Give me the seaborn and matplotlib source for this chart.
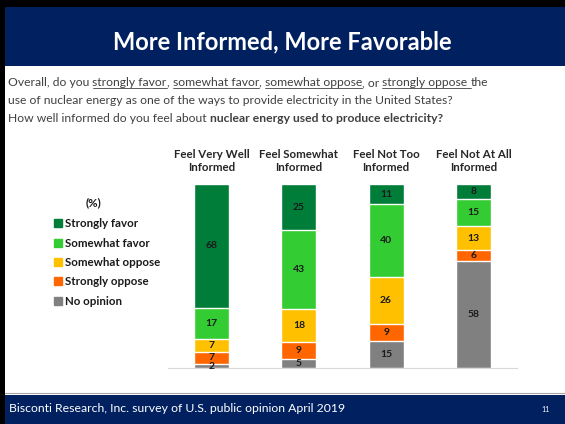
import numpy as np
import pandas as pd
import seaborn as sns
import matplotlib

matplotlib.use("Agg")
import matplotlib.pyplot as plt
from matplotlib.patches import Rectangle, Patch
from matplotlib.lines import Line2D

# data (percent)
groups = ["Feel Very Well\nInformed", "Feel Somewhat\nInformed",
          "Feel Not Too\nInformed", "Feel Not At All\nInformed"]
strongly_favor = [68, 25, 11, 8]
somewhat_favor = [17, 43, 40, 15]
somewhat_oppose = [7, 18, 26, 13]
strongly_oppose = [7, 9, 9, 6]
no_opinion = [2, 5, 15, 58]

series = ["No opinion", "Strongly oppose", "Somewhat oppose",
          "Somewhat favor", "Strongly favor"]
colors = ["#808080", "#FF6600", "#FFC000", "#33CC33", "#007E39"]

df = pd.DataFrame({
    "No opinion": no_opinion,
    "Strongly oppose": strongly_oppose,
    "Somewhat oppose": somewhat_oppose,
    "Somewhat favor": somewhat_favor,
    "Strongly favor": strongly_favor,
}, index=groups)

# 100% stacked like the original excel chart
share = df.div(df.sum(axis=1), axis=0) * 100
cum = share.cumsum(axis=1)
base = cum - share

sns.set_style("white")
plt.rcParams["font.family"] = ["Lato", "DejaVu Sans"]

fig = plt.figure(figsize=(5.65, 4.24), dpi=100)
W, H = 565, 424

def box(x0, y0, x1, y1, color):
    fig.add_artist(Rectangle((x0 / W, 1 - y1 / H), (x1 - x0) / W, (y1 - y0) / H,
                             transform=fig.transFigure, color=color, lw=0, zorder=0))

# slide frame, header and footer
box(0, 0, W, 7, "black")
box(0, 0, 5, H, "black")
box(5, 7, W, 66, "#002060")
box(5, 395, W, H, "#002060")
fig.add_artist(Line2D([5 / W, 1], [1 - 393 / H] * 2, transform=fig.transFigure,
                      color="#A6A6A6", lw=0.8))

fig.text(282 / W, 1 - 42 / H, "More Informed, More Favorable", color="white",
         fontsize=17, fontweight="bold", ha="center", va="center")
fig.text(9 / W, 1 - 409 / H, "Bisconti Research, Inc. survey of U.S. public opinion April 2019",
         color="white", fontsize=8.8, va="center")
fig.text(541 / W, 1 - 410 / H, "11", color="white", fontsize=5, va="center")

renderer = fig.canvas.get_renderer()

def width(s, weight, size):
    t = fig.text(0, 0, s + "|", fontsize=size, fontweight=weight)
    t2 = fig.text(0, 0, "|", fontsize=size, fontweight=weight)
    w = t.get_window_extent(renderer).width - t2.get_window_extent(renderer).width
    t.remove()
    t2.remove()
    return w / W

def run(pieces, x, y, size=8.7, color="#404040"):
    x = x / W
    y = 1 - y / H
    for s, style in pieces:
        weight = "bold" if style == "b" else "normal"
        fig.text(x, y, s, fontsize=size, fontweight=weight, color=color, va="baseline")
        w = width(s, weight, size)
        if style == "u":
            fig.add_artist(Line2D([x, x + w], [y - 2 / H] * 2, transform=fig.transFigure,
                                  color=color, lw=0.6))
        x += w

run([("Overall, do you ", ""), ("strongly favor", "u"), (", ", ""),
     ("somewhat favor", "u"), (", ", ""), ("somewhat oppose", "u"), (", or ", ""),
     ("strongly oppose ", "u"), ("the", "")], 8, 86)
run([("use of nuclear energy as one of the ways to provide electricity in the United States?", "")], 8, 104)
run([("How well informed do you feel about ", ""),
     ("nuclear energy used to produce electricity?", "b")], 8, 122)

# chart
ax = fig.add_axes([168 / W, 1 - 368 / H, (517 - 168) / W, (368 - 184) / H])
for name, col in zip(series[::-1], colors[::-1]):
    sns.barplot(x=groups, y=cum[name].values, color=col, width=0.4,
                saturation=1, ax=ax, zorder=2)

for name in series:
    for i, g in enumerate(groups):
        ax.text(i, base.loc[g, name] + share.loc[g, name] / 2, str(df.loc[g, name]),
                ha="center", va="center", fontsize=7.5, fontweight="bold",
                color="#1a1a1a", zorder=3)

ax.set_ylim(0, 100)
ax.set_xlim(-0.5, 3.5)
ax.set_xlabel("")
ax.set_ylabel("")
ax.set_yticks([])
ax.xaxis.tick_top()
ax.tick_params(axis="x", length=0, pad=8, labelsize=8.3, labelcolor="#262626")
for lab in ax.get_xticklabels():
    lab.set_fontweight("bold")
for side in ["top", "left", "right"]:
    ax.spines[side].set_visible(False)
ax.spines["bottom"].set_color("#D9D9D9")
ax.spines["bottom"].set_linewidth(0.8)

fig.text(93 / W, 1 - 203 / H, "(%)", fontsize=8.3, fontweight="bold",
         color="#1a1a1a", ha="center", va="center")
handles = [Patch(color=c, label=s) for s, c in zip(series[::-1], colors[::-1])]
leg = fig.legend(handles=handles, loc="upper left", bbox_to_anchor=(44 / W, 1 - 208 / H),
                 frameon=False, fontsize=8.3, handlelength=0.7,
                 handleheight=0.7, handletextpad=0.25, labelspacing=0.72)
for t in leg.get_texts():
    t.set_fontweight("bold")
    t.set_color("#1a1a1a")

fig.savefig("out.png", dpi=100)
